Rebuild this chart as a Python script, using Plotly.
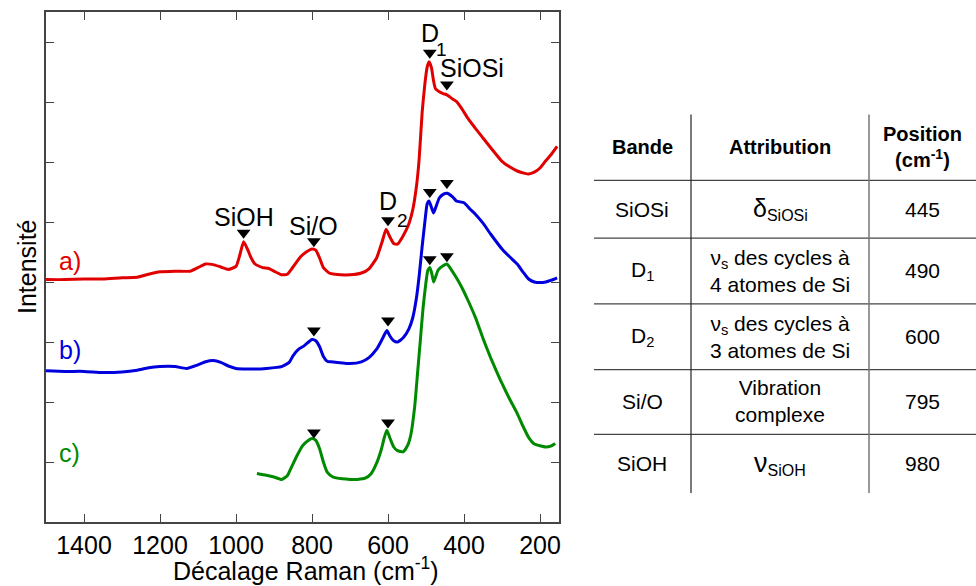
import plotly.graph_objects as go

# ---------------- data ----------------
wn_a = [1500, 1450, 1400, 1350, 1300, 1260, 1230, 1200, 1160, 1120, 1100, 1080, 1060, 1040, 1020,
        1000, 990, 980, 970, 960, 950, 930, 915, 900, 880, 865, 850, 830, 815, 800, 790, 780, 770,
        755, 740, 700, 670, 650, 630, 615, 605, 595, 585, 575, 560, 545, 535, 525, 518, 510, 503,
        497, 492, 486, 480, 475, 465, 455, 445, 430, 420, 405, 390, 370, 350, 325, 300, 280, 260,
        240, 230, 215, 200, 185, 170, 155]
int_a = [4.04, 4.04, 4.05, 4.05, 4.07, 4.08, 4.13, 4.17, 4.18, 4.18, 4.24, 4.30, 4.29, 4.25, 4.21,
         4.26, 4.45, 4.67, 4.55, 4.40, 4.30, 4.24, 4.23, 4.18, 4.12, 4.13, 4.25, 4.42, 4.50, 4.55, 4.53,
         4.40, 4.24, 4.15, 4.13, 4.12, 4.15, 4.22, 4.40, 4.68, 4.88, 4.75, 4.64, 4.63, 4.77, 4.97,
         5.20, 5.60, 6.05, 6.84, 7.30, 7.58, 7.67, 7.58, 7.35, 7.22, 7.17, 7.14, 7.12, 7.05, 7.01,
         6.88, 6.73, 6.56, 6.40, 6.20, 6.01, 5.92, 5.85, 5.81, 5.80, 5.83, 5.90, 6.02, 6.13, 6.26]

wn_b = [1500, 1450, 1400, 1350, 1300, 1260, 1230, 1200, 1160, 1130, 1100, 1080, 1060, 1040, 1020,
        1000, 970, 950, 920, 880, 860, 850, 835, 820, 800, 790, 780, 770, 760, 750, 700, 670, 650,
        630, 615, 603, 595, 585, 575, 560, 545, 535, 525, 518, 510, 503, 497, 492, 486, 480, 474,
        465, 455, 445, 430, 420, 400, 385, 370, 350, 330, 300, 280, 260, 245, 230, 215, 200, 185,
        170, 155]
int_b = [2.52, 2.51, 2.51, 2.49, 2.50, 2.53, 2.57, 2.59, 2.59, 2.56, 2.62, 2.67, 2.69, 2.66, 2.60,
         2.56, 2.55, 2.55, 2.56, 2.59, 2.66, 2.77, 2.88, 2.94, 3.04, 3.02, 2.92, 2.76, 2.68, 2.67,
         2.64, 2.67, 2.74, 2.88, 3.05, 3.19, 3.10, 3.02, 3.00, 3.07, 3.22, 3.40, 3.74, 4.10, 4.60,
         5.00, 5.30, 5.35, 5.25, 5.15, 5.25, 5.40, 5.46, 5.48, 5.42, 5.35, 5.32, 5.22, 5.13, 4.98,
         4.80, 4.55, 4.42, 4.30, 4.17, 4.05, 4.00, 3.99, 4.00, 4.03, 4.07]

wn_c = [945, 920, 900, 880, 865, 855, 840, 825, 810, 800, 790, 780, 770, 760, 745, 720, 700, 680,
        660, 645, 630, 618, 610, 603, 595, 585, 575, 560, 548, 540, 530, 522, 515, 508, 500, 495,
        490, 485, 480, 475, 468, 455, 445, 435, 420, 405, 390, 370, 350, 330, 315, 300, 280, 260,
        245, 230, 215, 200, 185, 170, 160]
int_c = [0.81, 0.78, 0.75, 0.71, 0.77, 0.90, 1.10, 1.27, 1.36, 1.39, 1.36, 1.22, 1.00, 0.83, 0.75,
         0.72, 0.71, 0.71, 0.73, 0.80, 0.98, 1.20, 1.40, 1.53, 1.40, 1.25, 1.19, 1.17, 1.28, 1.45,
         1.91, 2.50, 3.02, 3.55, 4.00, 4.20, 4.24, 4.15, 4.00, 4.08, 4.20, 4.27, 4.30, 4.22, 4.07,
         3.90, 3.70, 3.41, 3.06, 2.74, 2.52, 2.31, 2.05, 1.81, 1.60, 1.41, 1.30, 1.27, 1.25, 1.27, 1.31]

# band positions (cm-1) and marker heights
mark_pos_a = [980, 795, 600, 490, 445]
mark_int_a = [4.82, 4.68, 5.03, 7.82, 7.29]
mark_pos_b = [795, 600, 490, 445]
mark_int_b = [3.19, 3.36, 5.50, 5.65]
mark_pos_c = [795, 600, 490, 445]
mark_int_c = [1.49, 1.66, 4.38, 4.43]

# peak labels on spectrum a)
peak_labels = ["SiOH", "Si/O", "D", "D", "SiOSi"]
peak_label_x = [980, 795, 600, 489, 380]
peak_label_y = [5.08, 4.93, 5.35, 8.15, 7.56]
peak_subs = ["2", "1"]
peak_sub_x = [563, 458]
peak_sub_y = [5.03, 7.87]

series_names = ["a)", "b)", "c)"]
series_label_y = [4.35, 2.86, 1.15]
colors = ["#e10000", "#0000dd", "#008a00"]

x_ticks = [1400, 1200, 1000, 800, 600, 400, 200]
y_ticks = [1, 2, 3, 4, 5, 6, 7, 8]

# table
tab_header = ["<b>Bande</b>", "<b>Attribution</b>", "<b>Position</b><br><b>(cm<sup>-1</sup>)</b>"]
tab_bands = ["SiOSi", "D<sub>1</sub>", "D<sub>2</sub>", "Si/O", "SiOH"]
tab_attr = ["<span style='font-size:25px'>δ</span><sub><span style='font-size:16px'>SiOSi</span></sub>",
            "ν<sub>s</sub> des cycles à<br>4 atomes de Si",
            "ν<sub>s</sub> des cycles à<br>3 atomes de Si",
            "Vibration<br>complexe",
            "<span style='font-size:27px'>ν</span><sub><span style='font-size:16px'>SiOH</span></sub>"]
tab_pos = [445, 490, 600, 795, 980]

# ---------------- layout geometry (pixels) ----------------
W, H = 976, 586
L, R, T, B = 46, 559, 10, 522
FONT = "Liberation Sans, Arial, sans-serif"
FS = 25


def px(x):
    return (x - L) / (R - L)


def py(y):
    return (B - y) / (B - T)


fig = go.Figure()
for wn, it, c in zip([wn_a, wn_b, wn_c], [int_a, int_b, int_c], colors):
    fig.add_trace(go.Scatter(x=wn, y=it, mode="lines", line=dict(color=c, width=3, shape="spline", smoothing=0.5),
                             hoverinfo="skip", showlegend=False))
for mp, mi in zip([mark_pos_a, mark_pos_b, mark_pos_c], [mark_int_a, mark_int_b, mark_int_c]):
    fig.add_trace(go.Scatter(x=mp, y=mi, mode="markers",
                             marker=dict(symbol="triangle-down", size=12, color="black"),
                             hoverinfo="skip", showlegend=False))

ann = []
for t, x, y in zip(peak_labels, peak_label_x, peak_label_y):
    ann.append(dict(x=x, y=y, xref="x", yref="y", text=t, showarrow=False, xanchor="center",
                    yanchor="middle", font=dict(size=FS, color="black", family=FONT)))
for t, x, y in zip(peak_subs, peak_sub_x, peak_sub_y):
    ann.append(dict(x=x, y=y, xref="x", yref="y", text=t, showarrow=False, xanchor="center",
                    yanchor="middle", font=dict(size=19, color="black", family=FONT)))
for t, y, c in zip(series_names, series_label_y, colors):
    ann.append(dict(x=1472, y=y, xref="x", yref="y", text=t, showarrow=False, xanchor="left",
                    yanchor="middle", font=dict(size=FS, color=c, family=FONT)))

# axis titles
ann.append(dict(x=px(27), y=py(266), xref="paper", yref="paper", text="Intensité", textangle=-90,
                xanchor="center", yanchor="middle",
                showarrow=False, font=dict(size=FS, color="black", family=FONT)))
ann.append(dict(x=px(306), y=py(569), xref="paper", yref="paper", text="Décalage Raman (cm<sup>-1</sup>)",
                xanchor="center", yanchor="middle",
                showarrow=False, font=dict(size=FS, color="black", family=FONT)))

# table text
col_x = [642, 780, 922]
row_y = [208, 270, 336, 401, 463]
for t, cx in zip(tab_header, col_x):
    ann.append(dict(x=px(cx), y=py(146), xref="paper", yref="paper", text=t, showarrow=False,
                    xanchor="center", yanchor="middle",
                    font=dict(size=20, color="black", family=FONT)))
for i, ry in enumerate(row_y):
    for t, cx in zip([tab_bands[i], tab_attr[i], str(tab_pos[i])], col_x):
        ann.append(dict(x=px(cx), y=py(ry), xref="paper", yref="paper", text=t, showarrow=False,
                        xanchor="center", yanchor="middle",
                        font=dict(size=21, color="black", family=FONT)))

shapes = []
for hy in [179, 237, 303, 369, 434]:
    shapes.append(dict(type="line", xref="paper", yref="paper", x0=px(594), x1=px(976), y0=py(hy), y1=py(hy),
                       line=dict(color="#444444", width=1.2)))
shapes.append(dict(type="line", xref="paper", yref="paper", x0=px(691), x1=px(691), y0=py(113), y1=py(493),
                   line=dict(color="#222222", width=1.2)))
shapes.append(dict(type="line", xref="paper", yref="paper", x0=px(869), x1=px(869), y0=py(113), y1=py(493),
                   line=dict(color="#777777", width=1.5)))

fig.update_layout(
    width=W, height=H,
    margin=dict(l=L, r=W - R, t=T, b=H - B),
    paper_bgcolor="white", plot_bgcolor="white",
    font=dict(family=FONT, color="black"),
    annotations=ann, shapes=shapes,
    xaxis=dict(range=[1500, 150], tickvals=x_ticks, ticks="inside", ticklen=8, tickcolor="#444",
               showline=True, linecolor="#444", linewidth=1.5, mirror="ticks", showgrid=False, zeroline=False,
               tickfont=dict(size=FS, color="black", family=FONT), ticklabelstandoff=0),
    yaxis=dict(range=[0, 8.5], tickvals=y_ticks, ticks="inside", ticklen=8, tickcolor="#444",
               showline=True, linecolor="#444", linewidth=1.5, mirror="ticks", showgrid=False, zeroline=False,
               showticklabels=False),
)

fig.write_html("out.html", config={"displayModeBar": False},
               post_script="document.body.style.margin='0px';document.body.style.overflow='hidden';")
